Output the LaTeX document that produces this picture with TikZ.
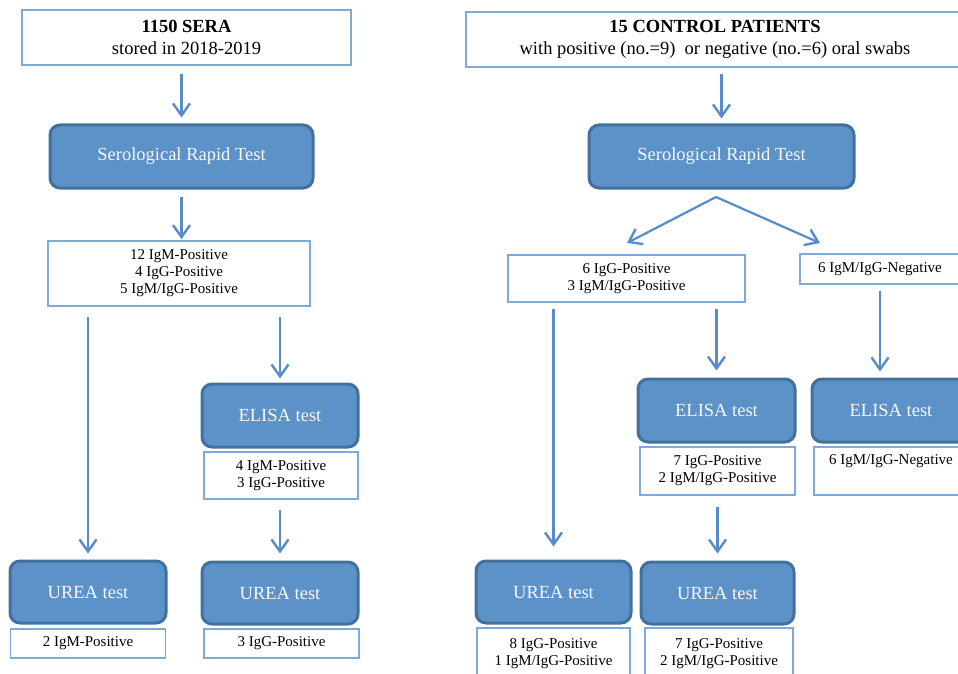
\documentclass[tikz,border=0pt]{standalone}
\usepackage{fontspec}
\setmainfont{Liberation Serif}
\usetikzlibrary{arrows.meta}
\definecolor{boxline}{RGB}{126,170,218}
\definecolor{testfill}{RGB}{92,146,200}
\definecolor{testline}{RGB}{65,113,156}
\definecolor{flowc}{RGB}{86,140,204}
\tikzset{
  infobox/.style={draw=boxline, line width=1.6pt, fill=white, align=center, inner sep=0pt,
    font=\fontsize{15}{17}\selectfont},
  headbox/.style={infobox, font=\fontsize{18.5}{22}\selectfont},
  testbox/.style={draw=testline, line width=3pt, fill=testfill, rounded corners=10pt,
    text=white!94!gray, inner sep=0pt, font=\fontsize{18.5}{22}\selectfont},
  flow/.style={draw=flowc, line width=2.2pt,
    -{Straight Barb[length=12pt,width=17pt,line width=2.4pt]}},
}
\begin{document}
\begin{tikzpicture}[x=1pt, y=-1pt]
    \useasboundingbox (0,0) rectangle (958,674);
    \clip (0,0) rectangle (958,674);
    % left: stored sera
    \node[headbox, minimum width=329, minimum height=55] (sera) at (186.5,37.5)
      {\textbf{1150 SERA}\\stored in 2018-2019};
    \node[testbox, minimum width=263, minimum height=63] (srtA) at (181.5,156.5) {Serological Rapid Test};
    \node[infobox, minimum width=262, minimum height=65] (resA) at (179,273.5)
      {12 IgM-Positive\\4 IgG-Positive\\5 IgM/IgG-Positive};
    \node[testbox, minimum width=156, minimum height=63] (elisaA) at (280,415.5) {ELISA test};
    \node[infobox, minimum width=154, minimum height=47] (elresA) at (281,475.5)
      {4 IgM-Positive\\3 IgG-Positive};
    \node[testbox, minimum width=156, minimum height=62] (ureaA) at (88,592) {UREA test};
    \node[infobox, minimum width=155, minimum height=29] (urresA) at (88,643.5) {2 IgM-Positive};
    \node[testbox, minimum width=156, minimum height=62] (ureaB) at (280,593) {UREA test};
    \node[infobox, minimum width=155, minimum height=29] (urresB) at (281.5,643.5) {3 IgG-Positive};
    % right: control patients
    \node[headbox, minimum width=498, minimum height=55] (ctrl) at (715,39.5)
      {\textbf{15 CONTROL PATIENTS}\\with positive (no.=9)\ \ or negative (no.=6) oral swabs};
    \node[testbox, minimum width=265, minimum height=63] (srtB) at (721.5,156.5) {Serological Rapid Test};
    \node[infobox, minimum width=237, minimum height=47] (pos) at (626.5,278.5)
      {6 IgG-Positive\\3 IgM/IgG-Positive};
    \node[infobox, minimum width=160, minimum height=30] (neg) at (880,269) {6 IgM/IgG-Negative};
    \node[testbox, minimum width=157, minimum height=63] (elisaB) at (716.5,410.5) {ELISA test};
    \node[infobox, minimum width=155, minimum height=48] (elresB) at (717.5,471)
      {7 IgG-Positive\\2 IgM/IgG-Positive};
    \node[testbox, minimum width=158, minimum height=63] (elisaC) at (891,410.5) {ELISA test};
    \node[infobox, minimum width=154, minimum height=48] (elresC) at (891,471)
      {6 IgM/IgG-Negative\\\strut};
    \node[testbox, minimum width=155, minimum height=62] (ureaC) at (553.5,592) {UREA test};
    \node[infobox, minimum width=153, minimum height=51] (urresC) at (553.5,653.5)
      {8 IgG-Positive\\1 IgM/IgG-Positive};
    \node[testbox, minimum width=153, minimum height=62] (ureaD) at (717.5,593) {UREA test};
    \node[infobox, minimum width=148, minimum height=51] (urresD) at (719,653.5)
      {7 IgG-Positive\\2 IgM/IgG-Positive};
    \coordinate (apex) at (716,197);
    \coordinate (tipL) at (627,243);
    \coordinate (tipR) at (820,243);
    % arrows
    \draw[flow, shorten <=8pt, shorten >=6pt] (sera.south -| srtA.north) -- (srtA.north);
    \draw[flow, shorten <=7pt, shorten >=1pt] (srtA.south) -- (srtA.south |- resA.north);
    \draw[flow, shorten <=10pt, shorten >=6pt] (resA.south -| ureaA.north) -- (ureaA.north);
    \draw[flow, shorten <=10pt, shorten >=4pt] (resA.south -| elisaA.north) -- (elisaA.north);
    \draw[flow, shorten <=10pt, shorten >=7pt] (elresA.south -| ureaB.north) -- (ureaB.north);
    \draw[flow, shorten <=6pt, shorten >=5pt] (ctrl.south -| srtB.north) -- (srtB.north);
    \draw[flow] (apex) -- (tipL);
    \draw[flow] (apex) -- (tipR);
    \draw[flow, shorten <=6pt, shorten >=13pt] (pos.south -| ureaC.north) -- (ureaC.north);
    \draw[flow, shorten <=6pt, shorten >=7pt] (pos.south -| elisaB.north) -- (elisaB.north);
    \draw[flow, shorten <=6pt, shorten >=6pt] (neg.south) -- (neg.south |- elisaC.north);
    \draw[flow, shorten <=11pt, shorten >=7pt] (elresB.south -| ureaD.north) -- (ureaD.north);
\end{tikzpicture}
\end{document}
